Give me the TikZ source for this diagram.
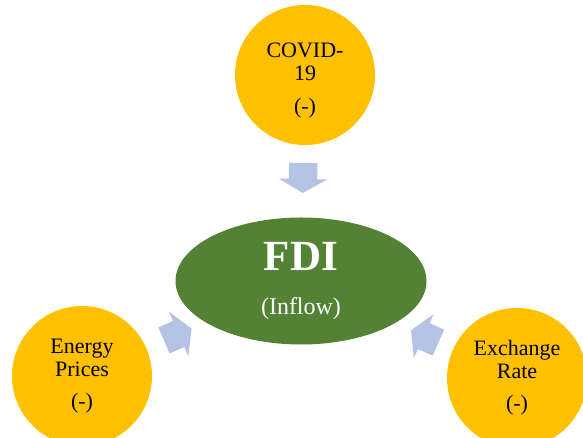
\documentclass[tikz,border=0pt]{standalone}
\usepackage{fontspec}
\setmainfont{Liberation Serif}
\usetikzlibrary{shapes.geometric,shapes.arrows}
\definecolor{factorgold}{HTML}{FFC000}
\definecolor{fdigreen}{HTML}{548235}
\definecolor{feedblue}{HTML}{B4C2E4}
\begin{document}
\begin{tikzpicture}[x=1pt,y=1pt,
		factor/.style={circle, fill=factorgold, minimum size=140pt, inner sep=0pt,
				align=center, font=\fontsize{22}{23}\selectfont},
		feed/.style={single arrow, fill=feedblue, minimum height=30pt, inner xsep=0pt,
				inner ysep=14pt, single arrow head extend=10pt, single arrow tip angle=120,
				outer sep=0pt}]
		\useasboundingbox (0,0) rectangle (583,438);
		% the centre
		\node[ellipse, fill=fdigreen, minimum width=251pt, minimum height=127pt,
			text=white, align=center, font=\fontsize{24}{44}\selectfont] (fdi) at (301,157)
		{{\fontsize{43}{43}\selectfont\bfseries FDI}\\(Inflow)};
		% the three factors
		\node[factor] (covid) at (305,363) {\rule{0pt}{25pt}COVID-\\19\\[10pt](-)};
		\node[factor] (energy) at (82,62) {Energy\\Prices\\[9pt](-)};
		\node[factor] (exchange) at (517,60) {Exchange\\Rate\\[9pt](-)};
		\foreach \src/\p in {covid/0.48, energy/0.42, exchange/0.41} {
				\path (\src.center) -- node[feed, pos=\p, sloped, allow upside down] (arr-\src) {}
				(fdi.center);
			}
	\end{tikzpicture}
\end{document}
